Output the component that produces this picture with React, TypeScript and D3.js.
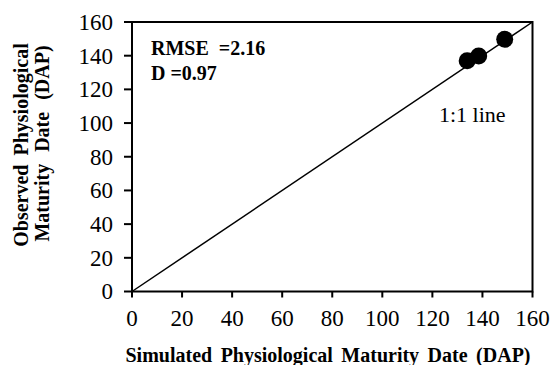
import React from "react";
import * as d3 from "d3";

const simulated = [133.9, 138.5, 148.9];
const observed = [137.0, 139.8, 149.7];
const ticks = [0, 20, 40, 60, 80, 100, 120, 140, 160];
const stats = ["RMSE =2.16", "D =0.97"];

export default function App() {
  const W = 551, H = 365;
  const x = d3.scaleLinear().domain([0, 160]).range([132, 532.5]);
  const y = d3.scaleLinear().domain([0, 160]).range([291.5, 22]);
  const line = d3.line<number>().x((d) => x(d)).y((d) => y(d));
  const serif = "Liberation Serif, Times New Roman, serif";
  return (
    <svg width={W} height={H} style={{ position: "absolute", left: 0, top: 0, fontFamily: serif }}>
      <rect x={0} y={0} width={W} height={H} fill="#fff" />
      <rect x={x(0)} y={y(160)} width={x(160) - x(0)} height={y(0) - y(160)} fill="none" stroke="#000" strokeWidth={2} />
      <path d={line([0, 160]) || ""} stroke="#000" strokeWidth={1.5} fill="none" />
      {ticks.map((t) => (
        <g key={"y" + t}>
          <line x1={x(0) - 8} x2={x(0)} y1={y(t)} y2={y(t)} stroke="#000" strokeWidth={2} />
          <text x={113} y={y(t)} dy="0.34em" textAnchor="end" fontSize={23} style={{ fontFamily: serif }}>{t}</text>
        </g>
      ))}
      {ticks.map((t) => (
        <g key={"x" + t}>
          <line x1={x(t)} x2={x(t)} y1={y(0)} y2={y(0) + 6} stroke="#000" strokeWidth={2} />
          <text x={x(t)} y={326} textAnchor="middle" fontSize={23} style={{ fontFamily: serif }}>{t}</text>
        </g>
      ))}
      {simulated.map((s, i) => (
        <circle key={i} cx={x(s)} cy={y(observed[i])} r={8.5} fill="#000" />
      ))}
      {stats.map((s, i) => (
        <text key={s} x={151} y={55 + i * 25} fontSize={20} fontWeight="bold" style={{ fontFamily: serif, wordSpacing: i === 0 ? "5px" : "0px" }}>{s}</text>
      ))}
      <text x={439} y={122} fontSize={22} style={{ fontFamily: serif }}>1:1 line</text>
      <text x={328} y={362} textAnchor="middle" fontSize={20} fontWeight="bold" style={{ fontFamily: serif, wordSpacing: "3.5px" }}>
        Simulated Physiological Maturity Date (DAP)
      </text>
      <g transform="translate(28,145) rotate(-90)">
        <text x={0} y={0} textAnchor="middle" fontSize={20} fontWeight="bold" style={{ fontFamily: serif, wordSpacing: "4px" }}>Observed Physiological</text>
      </g>
      <g transform="translate(49,143.5) rotate(-90)">
        <text x={0} y={0} textAnchor="middle" fontSize={20} fontWeight="bold" style={{ fontFamily: serif, wordSpacing: "7px" }}>Maturity Date (DAP)</text>
      </g>
    </svg>
  );
}
